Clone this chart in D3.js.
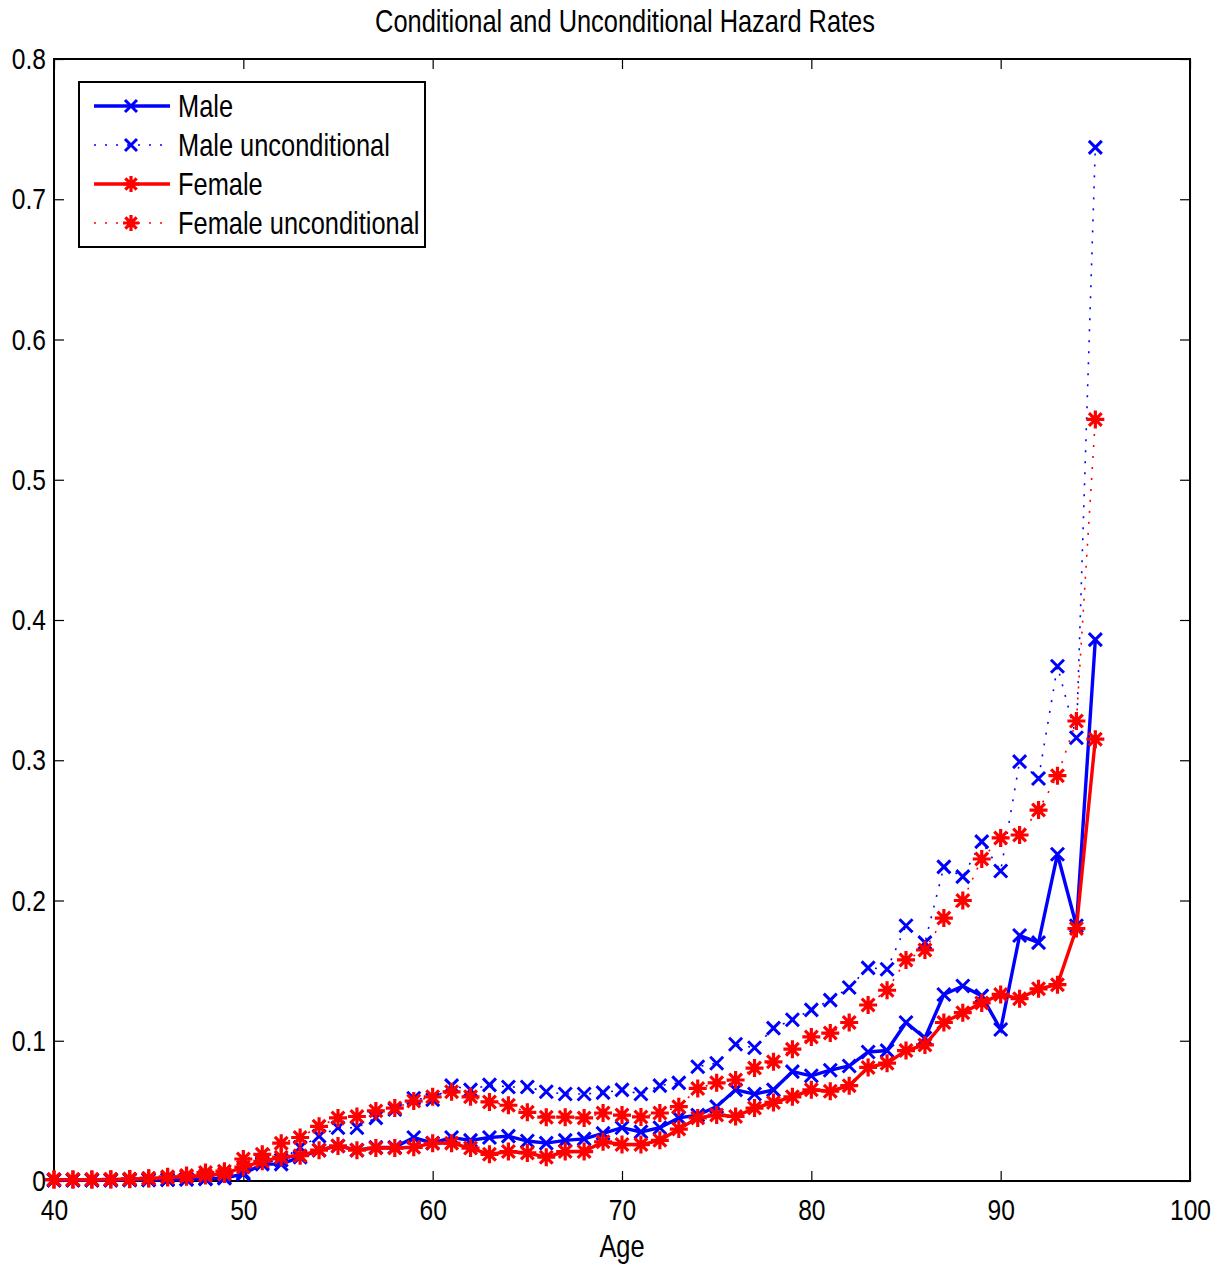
<!DOCTYPE html>
<html>
<head>
<meta charset="utf-8">
<script src="https://cdn.jsdelivr.net/npm/d3@7"></script>
<style>
  body { margin: 0; background: #fff; }
  text { font-family: "Liberation Sans", Arial, sans-serif; fill: #000; }
</style>
</head>
<body>
<svg id="chart" width="1220" height="1268"></svg>
<script>
// ages 40..95
const ages = d3.range(40, 96);

const maleCond = [0.0005, 0.0005, 0.0005, 0.0006, 0.0007, 0.0008, 0.001, 0.0012, 0.0015, 0.002,
  0.005, 0.012, 0.012, 0.017, 0.022, 0.025, 0.022, 0.024, 0.024, 0.031,
  0.027, 0.031, 0.029, 0.031, 0.032, 0.0285, 0.027, 0.029, 0.030, 0.034,
  0.038, 0.035, 0.038, 0.045, 0.047, 0.053, 0.065, 0.062, 0.065, 0.078,
  0.075, 0.079, 0.082, 0.092, 0.093, 0.113, 0.102, 0.133, 0.139, 0.132,
  0.108, 0.175, 0.170, 0.233, 0.182, 0.386];

const maleUncond = [0.0005, 0.0005, 0.0005, 0.0006, 0.0007, 0.0008, 0.001, 0.0013, 0.0017, 0.0025,
  0.006, 0.013, 0.015, 0.024, 0.032, 0.038, 0.038, 0.045, 0.051, 0.059,
  0.058, 0.068, 0.065, 0.0685, 0.067, 0.067, 0.0636, 0.062, 0.062, 0.063,
  0.065, 0.062, 0.068, 0.070, 0.0815, 0.084, 0.0975, 0.095, 0.109, 0.115,
  0.122, 0.129, 0.138, 0.152, 0.151, 0.182, 0.170, 0.224, 0.217, 0.242,
  0.221, 0.299, 0.287, 0.367, 0.316, 0.737];

const femaleCond = [0.001, 0.001, 0.001, 0.001, 0.0013, 0.0017, 0.0025, 0.003, 0.004, 0.005,
  0.010, 0.014, 0.017, 0.018, 0.022, 0.025, 0.022, 0.0235, 0.0235, 0.024,
  0.027, 0.027, 0.0235, 0.019, 0.021, 0.020, 0.017, 0.021, 0.021, 0.028,
  0.026, 0.026, 0.029, 0.037, 0.045, 0.047, 0.046, 0.052, 0.056, 0.060,
  0.065, 0.064, 0.068, 0.081, 0.084, 0.093, 0.097, 0.113, 0.120, 0.127,
  0.133, 0.130, 0.137, 0.140, 0.180, 0.315];

const femaleUncond = [0.001, 0.001, 0.001, 0.0012, 0.0015, 0.002, 0.003, 0.004, 0.006, 0.007,
  0.0157, 0.019, 0.027, 0.031, 0.039, 0.045, 0.046, 0.050, 0.052, 0.057,
  0.060, 0.0636, 0.060, 0.0564, 0.054, 0.049, 0.0455, 0.0455, 0.045, 0.0485,
  0.047, 0.0457, 0.0485, 0.053, 0.066, 0.070, 0.072, 0.0805, 0.085, 0.094,
  0.1027, 0.1055, 0.113, 0.1255, 0.136, 0.1576, 0.1647, 0.1875, 0.200, 0.2296,
  0.2446, 0.2467, 0.2645, 0.289, 0.328, 0.543];

const xTicks = [40, 50, 60, 70, 80, 90, 100];
const yTicks = [0, 0.1, 0.2, 0.3, 0.4, 0.5, 0.6, 0.7, 0.8];

const series = [
  { name: "Male", values: maleCond, color: "#0000ff", dotted: false, marker: "x" },
  { name: "Male unconditional", values: maleUncond, color: "#0000ff", dotted: true, marker: "x" },
  { name: "Female", values: femaleCond, color: "#ff0000", dotted: false, marker: "star" },
  { name: "Female unconditional", values: femaleUncond, color: "#ff0000", dotted: true, marker: "star" }
];

const plotL = 54, plotR = 1190, plotT = 59, plotB = 1181;
const fs = 30, fsText = 31, narrow = 0.82;   // narrow Helvetica look: squeeze Liberation Sans
const svg = d3.select("#chart");

const x = d3.scaleLinear().domain([40, 100]).range([plotL, plotR]);
const y = d3.scaleLinear().domain([0, 0.8]).range([plotB, plotT]);

// axes box with inward ticks
svg.append("g").attr("transform", `translate(0,${plotB})`)
  .call(d3.axisBottom(x).tickValues(xTicks).tickSize(-10).tickPadding(18).tickFormat(d3.format("d")))
  .call(g => g.select(".domain").remove())
  .call(g => g.selectAll(".tick text").attr("transform", `scale(${narrow},1)`));
svg.append("g").attr("transform", `translate(0,${plotT})`)
  .call(d3.axisTop(x).tickValues(xTicks).tickSize(-10).tickFormat(""))
  .call(g => g.select(".domain").remove());
svg.append("g").attr("transform", `translate(${plotL},0)`)
  .call(d3.axisLeft(y).tickValues(yTicks).tickSize(-10).tickPadding(8).tickFormat(d => d === 0 ? "0" : d3.format(".1f")(d)))
  .call(g => g.select(".domain").remove())
  .call(g => g.selectAll(".tick text").attr("x", -8 / narrow).attr("transform", `scale(${narrow},1)`));
svg.append("g").attr("transform", `translate(${plotR},0)`)
  .call(d3.axisRight(y).tickValues(yTicks).tickSize(-10).tickFormat(""))
  .call(g => g.select(".domain").remove());

svg.selectAll(".tick line").attr("stroke", "#000").attr("stroke-width", 1.2);
svg.selectAll(".tick text").attr("font-size", fs).attr("fill", "#000")
  .style("font-family", '"Liberation Sans", Arial, sans-serif');

svg.append("rect")
  .attr("x", plotL).attr("y", plotT)
  .attr("width", plotR - plotL).attr("height", plotB - plotT)
  .attr("fill", "none").attr("stroke", "#000").attr("stroke-width", 2);

// title and label
svg.append("text").attr("transform", `translate(625,32) scale(${narrow},1)`).attr("text-anchor", "middle")
  .attr("font-size", fsText).text("Conditional and Unconditional Hazard Rates");
svg.append("text").attr("transform", `translate(622,1257) scale(${narrow},1)`).attr("text-anchor", "middle")
  .attr("font-size", fsText).text("Age");

const line = d3.line().x(d => x(d[0])).y(d => y(d[1]));

function drawMarker(g, type, cx, cy, color, s) {
  if (type === "x") {
    g.append("path")
      .attr("d", `M${cx - s},${cy - s}L${cx + s},${cy + s}M${cx - s},${cy + s}L${cx + s},${cy - s}`)
      .attr("stroke", color).attr("stroke-width", 3).attr("fill", "none");
  } else {
    let d = "";
    for (let k = 0; k < 4; k++) {
      const a = k * Math.PI / 4;
      const dx = Math.cos(a) * s, dy = Math.sin(a) * s;
      d += `M${cx - dx},${cy - dy}L${cx + dx},${cy + dy}`;
    }
    g.append("path").attr("d", d)
      .attr("stroke", color).attr("stroke-width", 3.2).attr("fill", "none");
  }
}

series.forEach(s => {
  const pts = ages.map((a, i) => [a, s.values[i]]);
  const g = svg.append("g");
  g.append("path").datum(pts)
    .attr("d", line)
    .attr("fill", "none")
    .attr("stroke", s.color)
    .attr("stroke-width", s.dotted ? 1.6 : 3.4)
    .attr("stroke-dasharray", s.dotted ? "2,9" : null);
  pts.forEach(p => drawMarker(g, s.marker, x(p[0]), y(p[1]), s.color, s.marker === "x" ? 6.5 : 9));
});

// legend
const lg = svg.append("g");
lg.append("rect").attr("x", 79).attr("y", 82).attr("width", 346).attr("height", 165)
  .attr("fill", "#fff").attr("stroke", "#000").attr("stroke-width", 2);
series.forEach((s, i) => {
  const cy = 106 + i * 39;
  lg.append("line").attr("x1", 94).attr("x2", 170).attr("y1", cy).attr("y2", cy)
    .attr("stroke", s.color)
    .attr("stroke-width", s.dotted ? 1.6 : 3.4)
    .attr("stroke-dasharray", s.dotted ? "2,9" : null);
  drawMarker(lg, s.marker, 131, cy, s.color, s.marker === "x" ? 6 : 8);
  lg.append("text").attr("transform", `translate(178,${cy + 11}) scale(${narrow},1)`)
    .attr("font-size", fsText).text(s.name);
});
</script>
</body>
</html>
